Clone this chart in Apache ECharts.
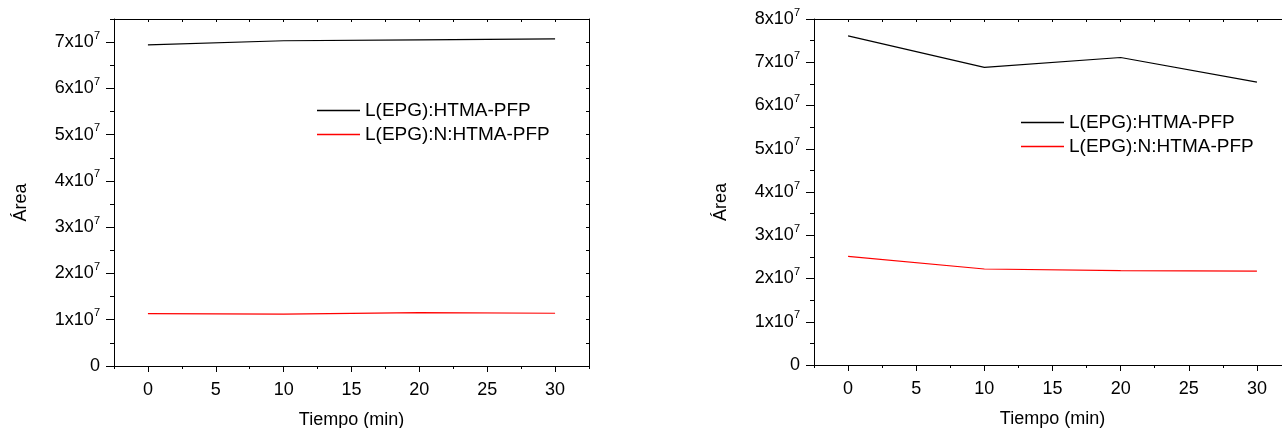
<!DOCTYPE html>
<html>
<head>
<meta charset="utf-8">
<script src="https://cdn.jsdelivr.net/npm/echarts@6/dist/echarts.min.js"></script>
<style>
html,body{margin:0;padding:0;background:#fff;}
#chart{width:1282px;height:428px;}
</style>
</head>
<body>
<div id="chart"></div>
<script>
// ---- data ----
var times = [0, 10, 20, 30];
var seriesNames = ['L(EPG):HTMA-PFP', 'L(EPG):N:HTMA-PFP'];
var leftBlack = [6.94e7, 7.03e7, 7.05e7, 7.07e7];
var leftRed = [1.13e7, 1.12e7, 1.155e7, 1.14e7];
var rightBlack = [7.61e7, 6.88e7, 7.11e7, 6.54e7];
var rightRed = [2.51e7, 2.22e7, 2.18e7, 2.17e7];
var xTicks = [0, 5, 10, 15, 20, 25, 30];
var yTicksLeft = [0, 1e7, 2e7, 3e7, 4e7, 5e7, 6e7, 7e7];
var yTicksRight = [0, 1e7, 2e7, 3e7, 4e7, 5e7, 6e7, 7e7, 8e7];
var xName = 'Tiempo (min)';
var yName = 'Área';

function pairs(xs, ys) { return xs.map(function (x, i) { return [x, ys[i]]; }); }

var FONT = '"Liberation Sans", Arial, sans-serif';
var BLACK = '#000000';
var RED = '#ff0000';

function yLabelFmt(v) {
  if (v === 0) return '{a|0}';
  var m = Math.round(v / 1e7);
  return '{a|' + m + 'x10}{s|7}';
}
var yRich = {
  a: { fontSize: 18, lineHeight: 24, color: BLACK, fontFamily: FONT },
  s: { fontSize: 11, lineHeight: 11, verticalAlign: 'top', color: BLACK, fontFamily: FONT }
};

function xAxesFor(g) {
  return [
    { // main bottom
      gridIndex: g, type: 'value', position: 'bottom', min: -2.5, max: 32.5, interval: 2.5,
      axisLine: { show: true, onZero: false, lineStyle: { color: BLACK, width: 1 } },
      axisTick: { show: true, inside: false, length: 6, customValues: xTicks, lineStyle: { color: BLACK } },
      axisLabel: { show: true, customValues: xTicks, margin: 15, fontSize: 18, color: BLACK, fontFamily: FONT },
      splitLine: { show: false },
      name: xName, nameLocation: 'middle', nameGap: 45,
      nameTextStyle: { fontSize: 18, color: BLACK, fontFamily: FONT }
    },
    { // minor ticks bottom
      gridIndex: g, type: 'value', position: 'bottom', min: -2.5, max: 32.5, interval: 2.5,
      axisLine: { show: false, onZero: false },
      axisTick: { show: true, inside: false, length: 3, lineStyle: { color: BLACK } },
      axisLabel: { show: false }, splitLine: { show: false }
    },
    { // top mirror
      gridIndex: g, type: 'value', position: 'top', min: -2.5, max: 32.5, interval: 2.5,
      axisLine: { show: true, onZero: false, lineStyle: { color: BLACK, width: 1 } },
      axisTick: { show: true, inside: true, length: 3, lineStyle: { color: BLACK } },
      axisLabel: { show: false }, splitLine: { show: false }
    }
  ];
}

function yAxesFor(g, maxV, ticks) {
  return [
    { // main left
      gridIndex: g, type: 'value', position: 'left', min: 0, max: maxV, interval: 1e7,
      axisLine: { show: true, onZero: false, lineStyle: { color: BLACK, width: 1 } },
      axisTick: { show: true, inside: false, length: 8, customValues: ticks, lineStyle: { color: BLACK } },
      axisLabel: { show: true, customValues: ticks, margin: 14, formatter: yLabelFmt, rich: yRich },
      splitLine: { show: false },
      name: yName, nameLocation: 'middle', nameGap: 84, nameRotate: 90,
      nameTextStyle: { fontSize: 18, color: BLACK, fontFamily: FONT, padding: [0, 20, 0, 0] }
    },
    { // minor left
      gridIndex: g, type: 'value', position: 'left', min: 0, max: maxV, interval: 0.5e7,
      axisLine: { show: false, onZero: false },
      axisTick: { show: true, inside: false, length: 4, lineStyle: { color: BLACK } },
      axisLabel: { show: false }, splitLine: { show: false }
    },
    { // right mirror
      gridIndex: g, type: 'value', position: 'right', min: 0, max: maxV, interval: 0.5e7,
      axisLine: { show: true, onZero: false, lineStyle: { color: BLACK, width: 1 } },
      axisTick: { show: true, inside: true, length: 3, lineStyle: { color: BLACK } },
      axisLabel: { show: false }, splitLine: { show: false }
    }
  ];
}

function lineSeries(name, color, x, y, g) {
  return {
    name: name, type: 'line', xAxisIndex: g * 3, yAxisIndex: g * 3,
    data: pairs(x, y), symbol: 'none', showSymbol: false, animation: false,
    lineStyle: { color: color, width: 1.2 }, itemStyle: { color: color }
  };
}

var LEGEND_ICON = 'path://M0,0H43V1.3H0Z';
var legendCommon = {
  orient: 'vertical', itemWidth: 43, itemHeight: 18, itemGap: 5,
  icon: LEGEND_ICON,
  data: seriesNames.map(function (n) { return { name: n, icon: LEGEND_ICON }; }),
  selectedMode: false,
  textStyle: { fontSize: 19, color: BLACK, fontFamily: FONT, lineHeight: 18 }
};

var option = {
  animation: false,
  backgroundColor: '#ffffff',
  textStyle: { fontFamily: FONT },
  grid: [
    { left: 114, top: 19, right: 693, bottom: 62, containLabel: false, outerBoundsMode: 'none' },
    { left: 814, top: 19, right: -9, bottom: 63, containLabel: false, outerBoundsMode: 'none' }
  ],
  legend: [
    Object.assign({}, legendCommon, { left: 312, top: 96 }),
    Object.assign({}, legendCommon, { left: 1016, top: 108 })
  ],
  xAxis: xAxesFor(0).concat(xAxesFor(1)),
  yAxis: yAxesFor(0, 7.5e7, yTicksLeft).concat(yAxesFor(1, 8e7, yTicksRight)),
  series: [
    lineSeries(seriesNames[0], BLACK, times, leftBlack, 0),
    lineSeries(seriesNames[1], RED, times, leftRed, 0),
    lineSeries(seriesNames[0], BLACK, times, rightBlack, 1),
    lineSeries(seriesNames[1], RED, times, rightRed, 1)
  ]
};

var chart = echarts.init(document.getElementById('chart'), null, { renderer: 'canvas' });
chart.setOption(option);
</script>
</body>
</html>
